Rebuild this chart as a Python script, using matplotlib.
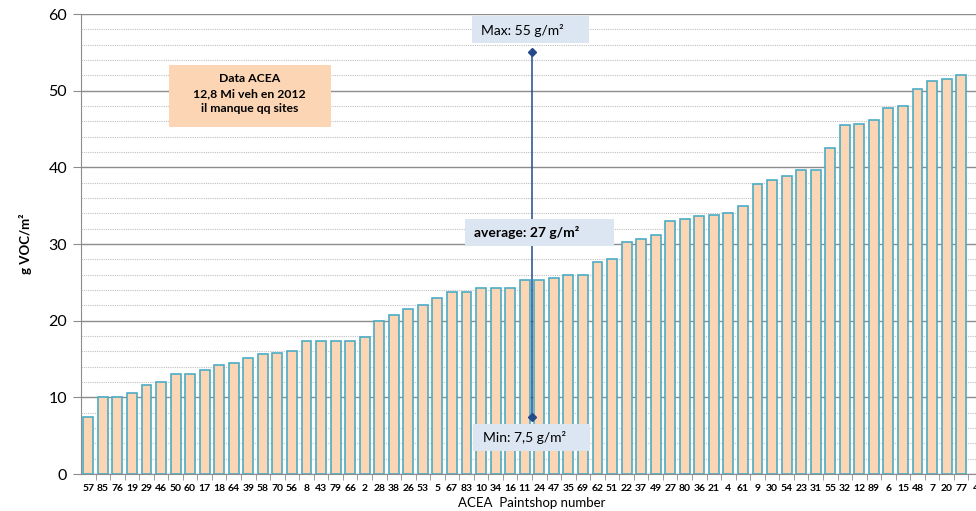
import numpy as np
import matplotlib.pyplot as plt
from matplotlib.patches import Rectangle
from matplotlib.ticker import MultipleLocator, FixedLocator

plt.rcParams['font.family'] = ['Lato', 'DejaVu Sans']

# === Data ===
shops = ['57', '85', '76', '19', '29', '46', '50', '60', '17', '18', '64', '39', '58', '70', '56',
         '8', '43', '79', '66', '2', '28', '38', '26', '53', '5', '67', '83', '10', '34', '16',
         '11', '24', '47', '35', '69', '62', '51', '22', '37', '49', '27', '80', '36', '21', '4',
         '61', '9', '30', '54', '23', '31', '55', '32', '12', '89', '6', '15', '48', '7', '20',
         '77', '4']
voc = [7.5, 10.0, 10.0, 10.6, 11.6, 12.0, 13.0, 13.0, 13.6, 14.2, 14.5, 15.1, 15.6, 15.8, 16.0,
       17.3, 17.35, 17.4, 17.4, 17.9, 20.0, 20.7, 21.5, 22.1, 22.9, 23.7, 23.8, 24.2, 24.2, 24.3,
       25.25, 25.3, 25.6, 25.9, 26.0, 27.6, 28.1, 30.2, 30.6, 31.2, 33.0, 33.3, 33.7, 33.8, 34.0,
       34.9, 37.8, 38.4, 38.9, 39.7, 39.7, 42.55, 45.55, 45.6, 46.2, 47.8, 48.0, 50.2, 51.2, 51.5,
       52.1, np.nan]  # last bar falls outside the picture
v_min, v_avg, v_max = 7.5, 27, 55

# === Plot ===
fig = plt.figure(figsize=(9.76, 5.11), dpi=100)
ax = fig.add_axes([81 / 976, 37 / 511, (983 - 81) / 976, 460 / 511])

x = np.arange(len(shops))
ax.bar(x, voc, width=0.68, color='#fcd5b4', edgecolor='#4bacc6', linewidth=1.2, zorder=3)

ax.set_xlim(-0.5, len(shops) - 0.5)
ax.set_ylim(0, 60)
ax.yaxis.set_major_locator(MultipleLocator(10))
ax.yaxis.set_minor_locator(MultipleLocator(2))
ax.grid(which='major', axis='y', color='#8c8c8c', linewidth=1.0, zorder=0)
ax.grid(which='minor', axis='y', color='#c0c0c0', linewidth=0.8, linestyle=(0, (1, 1)), zorder=0)
ax.tick_params(axis='y', which='major', labelsize=11.5, length=6, color='#8c8c8c', pad=4)
ax.tick_params(axis='y', which='minor', length=0)

ax.set_xticks(x)
ax.set_xticklabels(shops, fontsize=7.5, fontweight='bold')
ax.xaxis.set_minor_locator(FixedLocator(x + 0.5))
ax.tick_params(axis='x', which='major', length=0, pad=7)
ax.tick_params(axis='x', which='minor', length=4, color='#8c8c8c')

for s in ['top', 'right']:
    ax.spines[s].set_visible(False)
for s in ['left', 'bottom']:
    ax.spines[s].set_color('#8c8c8c')

ax.set_ylabel('g VOC/m²', fontsize=9.5, fontweight='bold', labelpad=12)
ax.set_xlabel('ACEA  Paintshop number', fontsize=9.5, labelpad=3)

# min / max line
xm = 30.5
ax.plot([xm, xm], [v_min, v_max], color='#244a8c', linewidth=1.1, marker='D', markersize=4.5, zorder=5)

# label boxes
boxes = [
    (26.35, 56.2, 8.05, 3.5, '#dce6f2'),   # max
    (25.87, 29.7, 10.3, 3.6, '#dce6f2'),   # average
    (26.42, 2.96, 8.05, 3.6, '#dce6f2'),   # min
    (5.54, 45.2, 11.13, 8.2, '#fcd5b4'),   # data note
]
for bx, by, bw, bh, bc in boxes:
    ax.add_patch(Rectangle((bx, by), bw, bh, facecolor=bc, edgecolor='none', zorder=6))

ax.text(27.0, 57.9, 'Max: 55 g/m²', fontsize=10, ha='left', va='center', zorder=7)
ax.text(26.5, 31.5, 'average: 27 g/m²', fontsize=10, fontweight='bold', ha='left', va='center', zorder=7)
ax.text(27.1, 4.8, 'Min: 7,5 g/m²', fontsize=10, ha='left', va='center', zorder=7)
ax.text(11.1, 49.6, 'Data ACEA\n12,8 Mi veh en 2012\nil manque qq sites', fontsize=8.8, fontweight='bold',
        ha='center', va='center', linespacing=1.45, zorder=7)

plt.savefig('out.png', dpi=100)
